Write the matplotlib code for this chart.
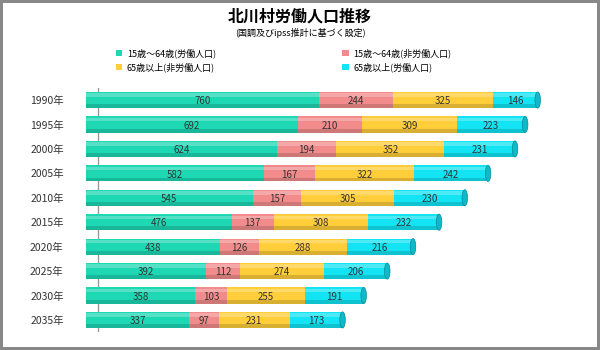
import matplotlib
matplotlib.use("Agg")
import matplotlib.pyplot as plt
import numpy as np

plt.rcParams['font.family'] = ['Noto Sans CJK JP', 'DejaVu Sans']

YEARS = ["1990年", "1995年", "2000年", "2005年", "2010年",
         "2015年", "2020年", "2025年", "2030年", "2035年"]
WORK_1564 = [760, 692, 624, 582, 545, 476, 438, 392, 358, 337]
NONWORK_1564 = [244, 210, 194, 167, 157, 137, 126, 112, 103, 97]
NONWORK_65 = [325, 309, 352, 322, 305, 308, 288, 274, 255, 231]
WORK_65 = [146, 223, 231, 242, 230, 232, 216, 206, 191, 173]

SERIES = [
    ("15歳～64歳(労働人口)", WORK_1564, "#1ED8B4"),
    ("15歳～64歳(非労働人口)", NONWORK_1564, "#F28C8C"),
    ("65歳以上(非労働人口)", NONWORK_65, "#FFCE3A"),
    ("65歳以上(労働人口)", WORK_65, "#12E4F4"),
]

fig = plt.figure(figsize=(6, 3.5), dpi=100)
fig.patch.set_edgecolor("#888888")
fig.patch.set_linewidth(3)
ax = fig.add_axes([0.143, 0.051, 0.817, 0.698])

y = np.arange(len(YEARS))
left = np.zeros(len(YEARS))
handles = []
for name, vals, color in SERIES:
    vals = np.array(vals)
    h = ax.barh(y, vals, left=left, height=0.66, color=color,
                edgecolor="none", label=name)
    handles.append(h)
    # shading for a cylinder look
    ax.barh(y + 0.25, vals, left=left, height=0.16, color="black",
            alpha=0.15, edgecolor="none")
    ax.barh(y - 0.2, vals, left=left, height=0.14, color="white",
            alpha=0.25, edgecolor="none")
    for yi, l, v in zip(y, left, vals):
        ax.text(l + v / 2, yi + 0.05, str(v), ha="center", va="center",
                fontsize=7, color="#333333")
    left = left + vals

# right end caps
ax.scatter(left, y, s=150, marker=(4, 0, 0), color="none")
for yi, l in zip(y, left):
    ax.add_patch(plt.matplotlib.patches.Ellipse(
        (l, yi), 18, 0.66, facecolor="#10B8C8", edgecolor="#0A8A98",
        linewidth=0.5, zorder=3))

ax.set_xlim(0, 1600)
ax.set_ylim(len(YEARS) - 0.5, -0.5)
ax.set_yticks(y)
ax.set_yticklabels(YEARS, fontsize=7.5, color="#333333")
ax.tick_params(axis="y", length=0, pad=16)
ax.set_xticks([])
for s in ax.spines.values():
    s.set_visible(False)
ax.axvline(40, color="#999999", linewidth=1, zorder=0)

fig.text(0.5, 0.952, "北川村労働人口推移", ha="center", va="center",
         fontsize=11.5, fontweight="bold")
fig.text(0.5, 0.905, "(国調及びipss推計に基づく設定)", ha="center",
         va="center", fontsize=6.5)

order = [0, 2, 1, 3]
fig.legend(handles=[handles[i] for i in order],
           loc="upper left", bbox_to_anchor=(0.18, 0.885),
           ncol=2, fontsize=6.5, frameon=False, handlelength=0.7,
           handleheight=0.7, columnspacing=14, labelspacing=0.5,
           handletextpad=0.5)

fig.savefig("out.png", dpi=100)
